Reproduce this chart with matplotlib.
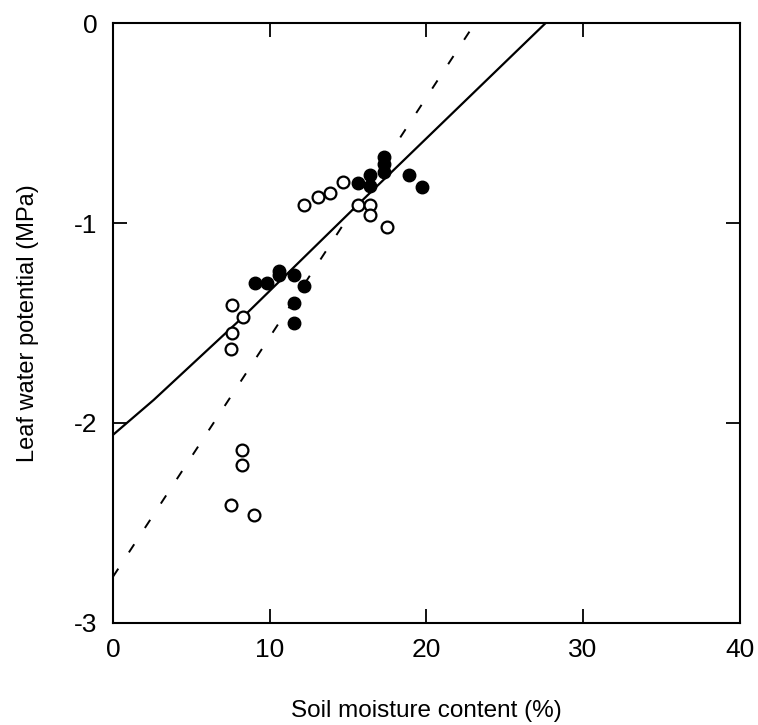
import numpy as np
import matplotlib.pyplot as plt

plt.rcParams['font.family'] = ['Liberation Sans', 'DejaVu Sans']

# open circles
open_x = [7.61, 8.27, 7.59, 7.54, 8.23, 8.23, 7.53, 9.01, 12.2, 13.11, 13.88,
          14.71, 15.63, 16.41, 16.41, 17.47]
open_y = [-1.41, -1.47, -1.55, -1.63, -2.135, -2.21, -2.41, -2.46, -0.91, -0.87,
          -0.85, -0.795, -0.91, -0.91, -0.96, -1.02]

# filled circles
fill_x = [9.09, 9.80, 10.61, 10.61, 11.58, 12.18, 11.58, 11.58, 15.63, 16.41,
          16.41, 17.30, 17.30, 17.30, 18.92, 19.75]
fill_y = [-1.30, -1.30, -1.24, -1.26, -1.26, -1.315, -1.40, -1.50, -0.80, -0.76,
          -0.815, -0.67, -0.705, -0.745, -0.76, -0.82]

# fitted curves
solid_x = [0, 2.6, 8.3, 15.6, 27.6]
solid_y = [-2.06, -1.885, -1.47, -0.91, 0]
dash_x = [0, 23.1]
dash_y = [-2.77, 0]

fig = plt.figure(figsize=(7.58, 7.25), dpi=100)
ax = fig.add_axes([0.149, 0.141, 0.827, 0.827])

ax.plot(solid_x, solid_y, color='black', lw=1.6)
ax.plot(dash_x, dash_y, color='black', lw=1.4, dashes=(5, 10))
ax.plot(open_x, open_y, 'o', ms=8.5, mfc='white', mec='black', mew=1.6)
ax.plot(fill_x, fill_y, 'o', ms=9, mfc='black', mec='black', mew=1)

ax.set_xlim(0, 40)
ax.set_ylim(-3, 0)
ax.set_xticks([0, 10, 20, 30, 40])
ax.set_yticks([-3, -2, -1, 0])
ax.set_yticklabels(['-3', '-2', '-1', '0'])
ax.tick_params(direction='in', length=10, width=1.3, labelsize=19,
               top=True, right=True, pad=11)
for s in ax.spines.values():
    s.set_linewidth(1.5)

ax.set_xlabel('Soil moisture content (%)', fontsize=17.5, labelpad=27)
ax.set_ylabel('Leaf water potential (MPa)', fontsize=17, labelpad=25)

fig.savefig('out.png', dpi=100)
